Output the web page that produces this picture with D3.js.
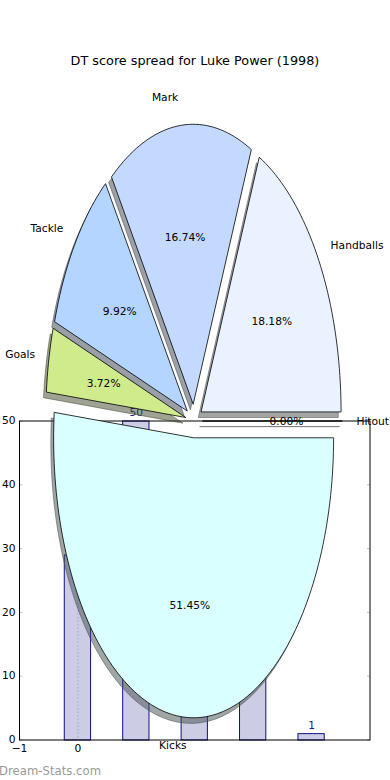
<!DOCTYPE html>
<html>
<head>
<meta charset="utf-8">
<script src="https://cdn.jsdelivr.net/npm/d3@7"></script>
<style>
  body { margin: 0; background: #fff; }
  text { font-family: "DejaVu Sans", sans-serif; }
</style>
</head>
<body>
<div id="chart"></div>
<script>
// pie: DT points per stat, counter-clockwise from 0 degrees
const pieLabels = ["Hitout", "Handballs", "Mark", "Tackle", "Goals", "Kicks"];
const piePoints = [0, 176, 162, 96, 36, 498];
const pieColors = ["#ffffff", "#ebf2ff", "#c4d9ff", "#b3d5ff", "#d0eb8b", "#d9ffff"];

// bars behind the pie (3rd and 4th tops are hidden by the Kicks wedge)
const barX = [0, 1, 2, 3, 4];
const barValues = [29, 50, 30, 13, 1];
const yTicks = [0, 10, 20, 30, 40, 50];
const xTicks = [-1, 0];

const title = "DT score spread for Luke Power (1998)";
const width = 390, height = 780;
const explode = 0.06;

const svg = d3.select("#chart").append("svg")
    .attr("width", width)
    .attr("height", height);

// ---- bar axes ----
const bx = d3.scaleLinear().domain([-1, 5]).range([19.5, 370]);
const by = d3.scaleLinear().domain([0, 50]).range([740, 421]);
const barW = 0.45;

const bars = svg.append("g");

bars.selectAll("rect")
    .data(barValues)
    .join("rect")
    .attr("x", (d, i) => bx(barX[i] - barW / 2) - 0.5)
    .attr("width", bx(barW) - bx(0))
    .attr("y", d => by(d))
    .attr("height", d => by(0) - by(d))
    .attr("fill", "#ccccE5")
    .attr("stroke", "#10108a")
    .attr("stroke-width", 1);

bars.append("line")
    .attr("x1", bx(0)).attr("x2", bx(0))
    .attr("y1", by(50)).attr("y2", by(0))
    .attr("stroke", "#a8a8b8")
    .attr("stroke-dasharray", "1.5,2");

bars.selectAll("text.val")
    .data(barValues)
    .join("text")
    .attr("class", "val")
    .attr("x", (d, i) => bx(barX[i]))
    .attr("y", d => by(d) - 5)
    .attr("text-anchor", "middle")
    .attr("font-size", "10.67px")
    .attr("fill", "#1a1a8c")
    .text(d => d);

// ticks, light grey, inward on both sides
bars.selectAll("line.yt")
    .data(yTicks)
    .join("line")
    .attr("class", "yt")
    .attr("x1", bx(-1)).attr("x2", bx(-1) + 3)
    .attr("y1", d => by(d)).attr("y2", d => by(d))
    .attr("stroke", "#c0c0c0");
bars.selectAll("line.yt2")
    .data(yTicks)
    .join("line")
    .attr("class", "yt2")
    .attr("x1", bx(5) - 3).attr("x2", bx(5))
    .attr("y1", d => by(d)).attr("y2", d => by(d))
    .attr("stroke", "#c0c0c0");

bars.append("rect")
    .attr("x", bx(-1)).attr("y", by(50))
    .attr("width", bx(5) - bx(-1))
    .attr("height", by(0) - by(50))
    .attr("fill", "none")
    .attr("stroke", "#000")
    .attr("stroke-width", 1);

bars.selectAll("text.ytl")
    .data(yTicks)
    .join("text")
    .attr("class", "ytl")
    .attr("x", bx(-1) - 4)
    .attr("y", d => by(d) - 0.5)
    .attr("dy", "0.35em")
    .attr("text-anchor", "end")
    .attr("font-size", "10.67px")
    .text(d => d);

bars.selectAll("text.xtl")
    .data(xTicks)
    .join("text")
    .attr("class", "xtl")
    .attr("x", d => bx(d))
    .attr("y", by(0) + 8.5)
    .attr("dy", "0.35em")
    .attr("text-anchor", "middle")
    .attr("font-size", "10.67px")
    .text(d => d < 0 ? "\u2212" + Math.abs(d) : d);

// ---- pie axes (unequal aspect, so wedges come out as ellipses) ----
const px = d3.scaleLinear().domain([-1.25, 1.25]).range([19, 369]);
const py = d3.scaleLinear().domain([-1.25, 1.25]).range([771, 71]);

const total = d3.sum(piePoints);
let acc = 0;
const wedges = piePoints.map((v, i) => {
  const t1 = acc / total * 360;
  acc += v;
  const t2 = acc / total * 360;
  const mid = (t1 + t2) / 2 * Math.PI / 180;
  return {
    label: pieLabels[i], value: v, color: pieColors[i],
    t1: t1, t2: t2, mid: mid,
    cx: explode * Math.cos(mid), cy: explode * Math.sin(mid)
  };
});

function wedgePath(w, dx, dy) {
  const pts = [[w.cx + dx, w.cy + dy]];
  const n = Math.max(2, Math.ceil((w.t2 - w.t1) / 1.5));
  for (let k = 0; k <= n; k++) {
    const a = (w.t1 + (w.t2 - w.t1) * k / n) * Math.PI / 180;
    pts.push([w.cx + dx + Math.cos(a), w.cy + dy + Math.sin(a)]);
  }
  return d3.line().x(p => px(p[0])).y(p => py(p[1]))(pts) + "Z";
}

function shadowColor(w) {
  const c = d3.rgb(w.color);
  return `rgba(${c.r * 0.3},${c.g * 0.3},${c.b * 0.3},0.5)`;
}

const pie = svg.append("g");

// shadows first, below all wedges
pie.selectAll("path.shadow")
    .data(wedges)
    .join("path")
    .attr("class", "shadow")
    .attr("d", w => wedgePath(w, -0.02, -0.02))
    .attr("fill", shadowColor)
    .attr("stroke", shadowColor)
    .attr("stroke-width", 1);

pie.selectAll("path.wedge")
    .data(wedges)
    .join("path")
    .attr("class", "wedge")
    .attr("d", w => wedgePath(w, 0, 0))
    .attr("fill", w => w.color)
    .attr("stroke", "#000")
    .attr("stroke-width", 0.8)
    .attr("stroke-linejoin", "round");

pie.selectAll("text.lab")
    .data(wedges)
    .join("text")
    .attr("class", "lab")
    .attr("x", w => px(w.cx + 1.1 * Math.cos(w.mid)))
    .attr("y", w => py(w.cy + 1.1 * Math.sin(w.mid)))
    .attr("dy", "0.35em")
    .attr("text-anchor", w => (w.cx + 1.1 * Math.cos(w.mid)) > 0 ? "start" : "end")
    .attr("font-size", "10.67px")
    .text(w => w.label);

pie.selectAll("text.pct")
    .data(wedges)
    .join("text")
    .attr("class", "pct")
    .attr("x", w => px(w.cx + 0.6 * Math.cos(w.mid)))
    .attr("y", w => py(w.cy + 0.6 * Math.sin(w.mid)))
    .attr("dy", "0.35em")
    .attr("text-anchor", "middle")
    .attr("font-size", "10.67px")
    .text(w => (w.value / total * 100).toFixed(2) + "%");

svg.append("text")
    .attr("x", width / 2)
    .attr("y", 61)
    .attr("dy", "0.35em")
    .attr("text-anchor", "middle")
    .attr("font-size", "12.8px")
    .text(title);

svg.append("text")
    .attr("x", -1)
    .attr("y", 775)
    .attr("font-size", "11.7px")
    .attr("fill", "#9a9a9a")
    .text("Dream-Stats.com");
</script>
</body>
</html>
